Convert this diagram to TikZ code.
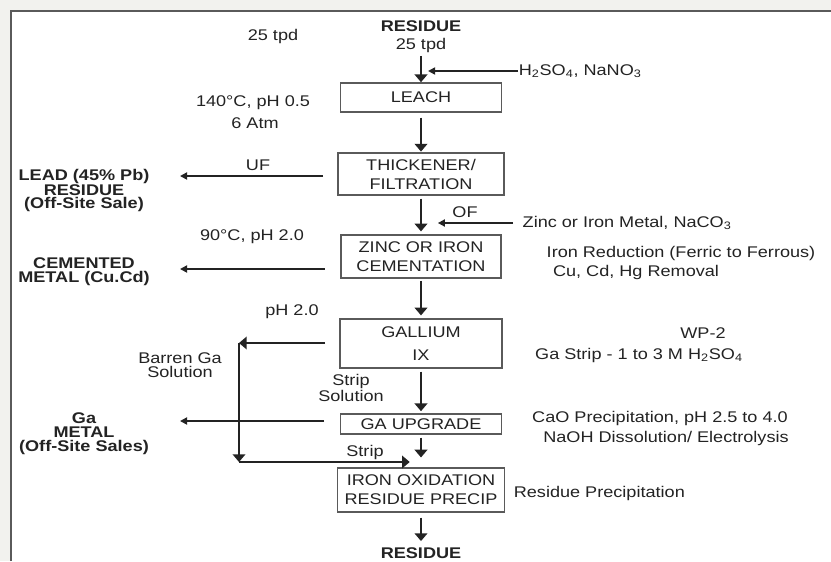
\documentclass[tikz,border=0pt]{standalone}
\usepackage{fontspec}
\setmainfont{Liberation Sans}[FakeStretch=1.17]
\usetikzlibrary{arrows.meta}
\definecolor{panel}{RGB}{242,242,238}
\definecolor{ink}{RGB}{35,35,35}

\begin{document}
\begin{tikzpicture}[x=0.025cm,y=-0.025cm,line width=1.2pt,
    every node/.style={inner sep=0pt,text=ink,font=\fontsize{11}{10}\selectfont},
    unit/.style={draw=ink!75,line width=1pt,fill=white,align=center,font=\fontsize{11}{13.5}\selectfont},
    lbl/.style={align=center},
    prod/.style={align=center,font=\bfseries\fontsize{11}{9.5}\selectfont},
    flowarrow/.style={draw=ink,-{Triangle[length=5.5pt,width=9pt]}},
    sidearrow/.style={draw=ink,-{Triangle[length=5pt,width=5pt]}}]
\useasboundingbox (0,0) rectangle (831,561);
\fill[panel] (0,0) rectangle (831,561);
\fill[white] (11,11) rectangle (831,561);
\draw[ink!75,line width=1pt] (11,561) -- (11,11) -- (831,11);

\node[unit,minimum width=4.03cm,minimum height=0.73cm] (leach) at (421,97.5) {LEACH};
\node[unit,minimum width=4.15cm,minimum height=1.05cm] (thick) at (421,174) {THICKENER/\\FILTRATION};
\node[unit,minimum width=4.0cm,minimum height=1.08cm] (zinc) at (421,256.5) {ZINC OR IRON\\CEMENTATION};
\node[unit,minimum width=4.05cm,minimum height=1.23cm] (gall) at (421,343.5) {GALLIUM\\[3pt]IX};
\node[unit,minimum width=4.03cm,minimum height=0.5cm] (gaup) at (421,424) {GA UPGRADE};
\node[unit,minimum width=4.18cm,minimum height=1.1cm] (iron) at (421,490) {IRON OXIDATION\\RESIDUE PRECIP};

\node (tpd) at (273,36) {25 tpd};
\node[font=\bfseries\fontsize{11}{10}\selectfont] (res0top) at (421,26) {RESIDUE};
\node (res0) at (421,45) {25 tpd};
\node[anchor=west] (acid) at (518,71) {H\textsubscript{2}SO\textsubscript{4}, NaNO\textsubscript{3}};
\node (leachtemp) at (253,103) {140°C, pH 0.5};
\node (leachpres) at (255,123) {6 Atm};
\node (uflbl) at (258,165) {UF};
\node[prod] (lead) at (84,190.5) {LEAD (45\% Pb)\\RESIDUE\\(Off-Site Sale)};
\node (oflbl) at (465,212) {OF};
\node[anchor=west,inner xsep=6.3pt] (zincin) at (513,223) {Zinc or Iron Metal, NaCO\textsubscript{3}};
\node (cemtemp) at (252,237) {90°C, pH 2.0};
\node[prod,font=\bfseries\fontsize{11}{10}\selectfont] (cemmet) at (84,272) {CEMENTED\\METAL (Cu.Cd)};
\node (ferric) at (681,253) {Iron Reduction (Ferric to Ferrous)};
\node (cucd) at (636,272) {Cu, Cd, Hg Removal};
\node (gaph) at (292,312) {pH 2.0};
\node[lbl] (barren) at (180,365.5) {Barren Ga\\Solution};
\node (wp) at (703,333) {WP-2};
\node (gastrip) at (639,355) {Ga Strip - 1 to 3 M H\textsubscript{2}SO\textsubscript{4}};
\node[lbl] (stripsol) at (351,388) {Strip\\Solution};
\node[prod,font=\bfseries\fontsize{11}{10}\selectfont] (gamet) at (84,434) {Ga\\METAL\\(Off-Site Sales)};
\node (cao) at (660,418) {CaO Precipitation, pH 2.5 to 4.0};
\node (naoh) at (666,438) {NaOH Dissolution/ Electrolysis};
\node (strip2) at (365,452) {Strip};
\node[anchor=west] (resprec) at (513,493) {Residue Precipitation};
\node[font=\bfseries\fontsize{11}{10}\selectfont] (res1) at (421,553) {RESIDUE};

\draw[flowarrow,shorten <=2pt] (res0) -- (res0 |- leach.north);
\draw[flowarrow,shorten <=3.5pt,shorten >=0.5pt] (leach) -- (thick);
\draw[flowarrow,shorten <=2pt,shorten >=2pt] (thick) -- (zinc);
\draw[flowarrow,shorten <=1.5pt,shorten >=2pt] (zinc) -- (gall);
\draw[flowarrow,shorten <=2pt,shorten >=1.5pt] (gall) -- (gaup);
\draw[flowarrow,shorten <=2pt,shorten >=7pt] (gaup) -- (iron);
\draw[flowarrow,shorten <=3.5pt,shorten >=4pt] (iron) -- (res1);

\draw[sidearrow,shorten >=5pt] (acid.west) -- (acid.west -| leach.north);
\draw[sidearrow,shorten >=12pt] (zincin.west) -- (zincin.west -| zinc.north);

\coordinate (uf) at (180,176);
\coordinate (cem) at (180,269);
\coordinate (gamt) at (180,421);
\coordinate (bar) at (239,343);
\coordinate (barlow) at (239,462);
\draw[sidearrow,shorten <=10pt] (thick.west |- uf) -- (uf);
\draw[sidearrow,shorten <=11pt] (zinc.west |- cem) -- (cem);
\draw[sidearrow,shorten <=11pt] (gaup.west |- gamt) -- (gamt);
\draw[flowarrow,shorten <=10pt] (gall.west |- bar) -- (bar);
\draw[flowarrow] (bar) -- (barlow);
\draw[flowarrow,shorten >=8pt] (barlow) -- (barlow -| iron.north);
\end{tikzpicture}
\end{document}
